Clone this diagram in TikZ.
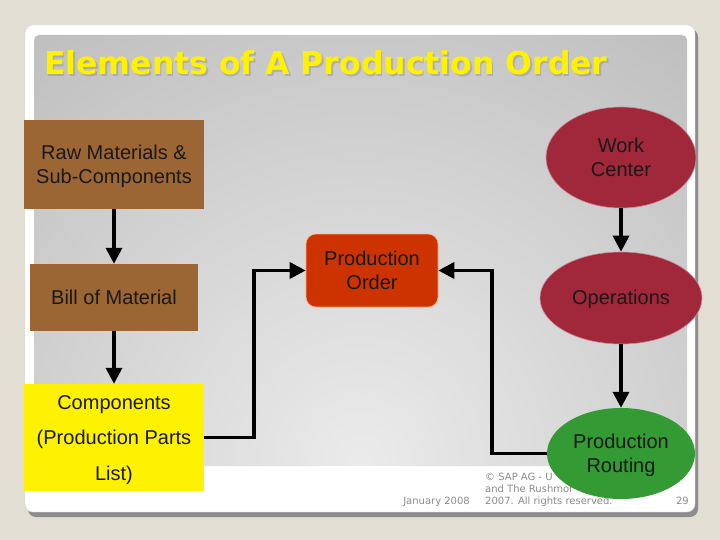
\documentclass[tikz,border=0pt]{standalone}
\usepackage{fontspec}
\setmainfont{Liberation Sans}
\newfontfamily\titlefont{DejaVu Sans}
\newfontfamily\footfont{DejaVu Sans}
\usetikzlibrary{shapes.geometric,arrows.meta}
\definecolor{bg}{HTML}{E3DED3}
\definecolor{brownbox}{HTML}{9C6634}
\definecolor{wine}{HTML}{A0283A}
\definecolor{routegreen}{HTML}{349A34}
\definecolor{poorange}{HTML}{CC3300}
\definecolor{footgray}{HTML}{8C8C8C}
\newcommand\lowtext[2][-2pt]{\raisebox{#1}[\height][\depth]{\begin{tabular}{@{}c@{}}#2\end{tabular}}}
\begin{document}
\begin{tikzpicture}[x=1pt,y=-1pt,
  box/.style={draw=none, font=\fontsize{20}{24}\selectfont, text=black!90, inner sep=0pt},
  conn/.style={line width=3.5pt, black, -{Triangle[length=16pt,width=16pt]}},
  foot/.style={font=\footfont\fontsize{10}{12}\selectfont, text=footgray, inner sep=0pt}
]
\useasboundingbox (0,0) rectangle (720,540);
% background and slide frame
\fill[bg] (0,0) rectangle (720,540);
\fill[black!45, rounded corners=8pt] (28,29) rectangle (698,517);
\filldraw[fill=white, draw=black!15, rounded corners=8pt] (25,25) rectangle (695,512);
\begin{scope}
  \clip[rounded corners=5pt] (34,35) rectangle (687,466);
  \shade[inner color=black!8, outer color=black!40] (360,460) circle (1000);
\end{scope}
% title
\node[anchor=base west, text=black!55, font=\titlefont\bfseries\fontsize{31.5}{36}\selectfont, inner sep=0pt, opacity=0.3] (titleshadow) at (45.5,76.5) {Elements of A Production Order};
\node[anchor=base west, text=yellow, font=\titlefont\bfseries\fontsize{31.5}{36}\selectfont, inner sep=0pt] (title) at (44,75) {Elements of A Production Order};
% footer
\node[foot, anchor=base east] (date) at (470,504) {January 2008};
\node[foot, anchor=base west] (copy1) at (485,480) {© SAP AG - U};
\node[foot, anchor=base west] (copy2) at (485,492) {and The Rushmor};
\node[foot, anchor=base west] (copy3) at (485,504) {2007. All rights reserved.};
\node[foot, anchor=base east] (page) at (689,504) {29};
% left column
\node[box, fill=brownbox, minimum width=180pt, minimum height=89pt] (raw) at (114,164.5) {\lowtext{Raw Materials \&\\Sub-Components}};
\node[box, fill=brownbox, minimum width=168pt, minimum height=67pt] (bom) at (114,297.5) {\lowtext{Bill of Material}};
\node[box, fill=yellow, minimum width=180pt, minimum height=107pt, font=\fontsize{20}{35.5}\selectfont] (comp) at (114,437.5) {\lowtext[0pt]{Components\\(Production Parts\\List)}};
% middle
\node[box, fill=poorange, draw=orange!35!pink, line width=0.6pt, rounded corners=10pt, minimum width=132pt, minimum height=73pt] (po) at (372,270.5) {\lowtext{Production\\Order}};
% right column
\node[box, ellipse, fill=wine, draw=wine!55!white, line width=0.6pt, minimum width=150pt, minimum height=101pt] (wc) at (621,157.5) {\lowtext{Work\\Center}};
\node[box, ellipse, fill=wine, draw=wine!55!white, line width=0.6pt, minimum width=162pt, minimum height=92pt] (ops) at (621,298) {\lowtext{Operations}};
\node[box, ellipse, fill=routegreen, minimum width=148pt, minimum height=91pt] (route) at (621,453.5) {\lowtext{Production\\Routing}};
% connectors
\draw[conn] (raw.south) -- (bom.north);
\draw[conn] (bom.south) -- (comp.north);
\draw[conn] (wc.south) -- (ops.north);
\draw[conn] (ops.south) -- (route.north);
\draw[conn] (comp.east) -- ++(50,0) |- (po.west);
\draw[conn] (route.west) -- ++(-55,0) |- (po.east);
\end{tikzpicture}
\end{document}
